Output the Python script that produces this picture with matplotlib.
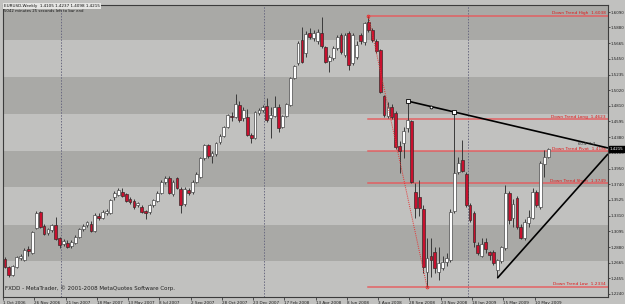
import numpy as np
import pandas as pd
import matplotlib
matplotlib.use("Agg")
import matplotlib.pyplot as plt
import matplotlib.transforms as mtrans

# weekly EURUSD bars, first bar = week of 1 Oct 2006
opens = [1.2716, 1.2606, 1.2497, 1.2610, 1.2730, 1.2702, 1.2852, 1.2800, 1.3139, 1.3358,
         1.3167, 1.3071, 1.3112, 1.3180, 1.3003, 1.2921, 1.2934, 1.2893, 1.2934, 1.3016,
         1.3126, 1.3180, 1.3194, 1.3098, 1.3303, 1.3276, 1.3344, 1.3344, 1.3563, 1.3590,
         1.3631, 1.3604, 1.3535, 1.3508, 1.3453, 1.3426, 1.3372, 1.3358, 1.3453, 1.3508,
         1.3617, 1.3768, 1.3822, 1.3604, 1.3822, 1.3672, 1.3467, 1.3658, 1.3631, 1.3768,
         1.3836, 1.4096, 1.4273, 1.4123, 1.4150, 1.4314, 1.4396, 1.4519, 1.4669, 1.4656,
         1.4820, 1.4642, 1.4656, 1.4410, 1.4369, 1.4710, 1.4751, 1.4806, 1.4642, 1.4669,
         1.4792, 1.4519, 1.4669, 1.4820, 1.5188, 1.5393, 1.5708, 1.5530, 1.5803, 1.5735,
         1.5694, 1.5803, 1.5612, 1.5421, 1.5462, 1.5598, 1.5776, 1.5503, 1.5803, 1.5393,
         1.5475, 1.5776, 1.5680, 1.5954, 1.5844, 1.5694, 1.5571, 1.4943, 1.4669, 1.4792,
         1.4710, 1.4260, 1.4300, 1.4505, 1.4600, 1.3631, 1.3563, 1.3399, 1.2538, 1.2757,
         1.2811, 1.2538, 1.2593, 1.2675, 1.2702, 1.3372, 1.3904, 1.4068, 1.3877, 1.3453,
         1.3344, 1.2907, 1.2757, 1.2948, 1.2811, 1.2811, 1.2565, 1.2688, 1.2866, 1.3617,
         1.3276, 1.3549, 1.3153, 1.3003, 1.3208, 1.3276, 1.3631, 1.3426, 1.4014, 1.4105]
highs = [1.2740, 1.2620, 1.2640, 1.2760, 1.2790, 1.2860, 1.2900, 1.3100, 1.3370, 1.3367,
         1.3190, 1.3140, 1.3200, 1.3290, 1.3016, 1.2990, 1.2975, 1.2975, 1.3050, 1.3140,
         1.3190, 1.3240, 1.3230, 1.3340, 1.3340, 1.3390, 1.3400, 1.3540, 1.3640, 1.3680,
         1.3680, 1.3620, 1.3560, 1.3530, 1.3500, 1.3450, 1.3390, 1.3470, 1.3540, 1.3640,
         1.3800, 1.3850, 1.3850, 1.3790, 1.3840, 1.3700, 1.3700, 1.3690, 1.3800, 1.3900,
         1.4110, 1.4290, 1.4290, 1.4190, 1.4320, 1.4420, 1.4530, 1.4700, 1.4720, 1.4970,
         1.4880, 1.4790, 1.4760, 1.4440, 1.4740, 1.4780, 1.4820, 1.4915, 1.4792, 1.4943,
         1.4830, 1.4690, 1.4850, 1.5200, 1.5370, 1.5690, 1.5885, 1.5830, 1.5870, 1.5840,
         1.5860, 1.6022, 1.5630, 1.5500, 1.5620, 1.5780, 1.5800, 1.5800, 1.5830, 1.5800,
         1.5700, 1.5800, 1.5960, 1.6038, 1.5870, 1.5720, 1.5590, 1.4960, 1.4860, 1.4840,
         1.4740, 1.4330, 1.4520, 1.4874, 1.4620, 1.3750, 1.3800, 1.3450, 1.3000, 1.3000,
         1.2880, 1.2880, 1.2760, 1.2800, 1.3400, 1.4719, 1.4110, 1.4341, 1.3900, 1.3480,
         1.3370, 1.2950, 1.3000, 1.3000, 1.2830, 1.2840, 1.2720, 1.2900, 1.3727, 1.3640,
         1.3540, 1.3570, 1.3200, 1.3260, 1.3390, 1.3680, 1.3660, 1.4050, 1.4200, 1.4237]
lows = [1.2590, 1.2470, 1.2480, 1.2590, 1.2700, 1.2690, 1.2760, 1.2790, 1.3120, 1.3140,
        1.3040, 1.3050, 1.3090, 1.2975, 1.2870, 1.2900, 1.2860, 1.2870, 1.2920, 1.3000,
        1.3100, 1.3160, 1.3080, 1.3080, 1.3250, 1.3260, 1.3320, 1.3330, 1.3520, 1.3570,
        1.3560, 1.3490, 1.3470, 1.3400, 1.3420, 1.3340, 1.3262, 1.3330, 1.3430, 1.3490,
        1.3600, 1.3740, 1.3600, 1.3580, 1.3670, 1.3344, 1.3440, 1.3590, 1.3610, 1.3750,
        1.3820, 1.4070, 1.4100, 1.4027, 1.4130, 1.4290, 1.4380, 1.4500, 1.4600, 1.4640,
        1.4590, 1.4600, 1.4390, 1.4300, 1.4350, 1.4680, 1.4720, 1.4590, 1.4369, 1.4650,
        1.4451, 1.4500, 1.4650, 1.4800, 1.5170, 1.5370, 1.5390, 1.5480, 1.5720, 1.5700,
        1.5660, 1.5600, 1.5390, 1.5270, 1.5440, 1.5570, 1.5520, 1.5480, 1.5298, 1.5370,
        1.5450, 1.5650, 1.5640, 1.5820, 1.5680, 1.5530, 1.4980, 1.4660, 1.4640, 1.4630,
        1.4220, 1.3891, 1.4100, 1.4450, 1.3750, 1.3270, 1.3300, 1.2530, 1.2334, 1.2470,
        1.2520, 1.2430, 1.2570, 1.2620, 1.2680, 1.3340, 1.3880, 1.3900, 1.3430, 1.3220,
        1.2880, 1.2770, 1.2740, 1.2800, 1.2700, 1.2640, 1.2456, 1.2660, 1.2840, 1.3200,
        1.3150, 1.3120, 1.2990, 1.2980, 1.3160, 1.3260, 1.3430, 1.3400, 1.3830, 1.4098]
closes = [1.2606, 1.2497, 1.2620, 1.2743, 1.2757, 1.2839, 1.2825, 1.3085, 1.3344, 1.3153,
          1.3057, 1.3126, 1.3180, 1.2989, 1.2907, 1.2962, 1.2880, 1.2948, 1.3016, 1.3126,
          1.3167, 1.3221, 1.3098, 1.3317, 1.3276, 1.3358, 1.3372, 1.3522, 1.3617, 1.3658,
          1.3576, 1.3508, 1.3494, 1.3426, 1.3481, 1.3358, 1.3344, 1.3453, 1.3522, 1.3617,
          1.3768, 1.3822, 1.3617, 1.3768, 1.3686, 1.3453, 1.3672, 1.3617, 1.3768, 1.3877,
          1.4096, 1.4273, 1.4123, 1.4164, 1.4300, 1.4396, 1.4519, 1.4683, 1.4656, 1.4833,
          1.4615, 1.4751, 1.4410, 1.4369, 1.4724, 1.4751, 1.4792, 1.4615, 1.4683, 1.4792,
          1.4505, 1.4669, 1.4833, 1.5188, 1.5352, 1.5667, 1.5407, 1.5790, 1.5749, 1.5803,
          1.5817, 1.5626, 1.5407, 1.5475, 1.5598, 1.5749, 1.5544, 1.5776, 1.5366, 1.5776,
          1.5639, 1.5694, 1.5940, 1.5844, 1.5708, 1.5557, 1.4997, 1.4683, 1.4792, 1.4656,
          1.4246, 1.4190, 1.4470, 1.4615, 1.3768, 1.3412, 1.3412, 1.2606, 1.2729, 1.2702,
          1.2593, 1.2661, 1.2675, 1.2729, 1.3358, 1.3891, 1.4027, 1.3918, 1.3453, 1.3249,
          1.2948, 1.2798, 1.2921, 1.2852, 1.2770, 1.2661, 1.2702, 1.2880, 1.3617, 1.3249,
          1.3467, 1.3153, 1.3003, 1.3221, 1.3290, 1.3631, 1.3453, 1.4027, 1.4109, 1.4215]

date_labels = ["1 Oct 2006", "26 Nov 2006", "21 Jan 2007", "18 Mar 2007", "13 May 2007",
               "8 Jul 2007", "2 Sep 2007", "28 Oct 2007", "23 Dec 2007", "17 Feb 2008",
               "13 Apr 2008", "8 Jun 2008", "3 Aug 2008", "28 Sep 2008", "23 Nov 2008",
               "18 Jan 2009", "15 Mar 2009", "10 May 2009"]
price_ticks = [1.6090, 1.5880, 1.5665, 1.5450, 1.5235, 1.5020, 1.4810, 1.4595, 1.4380,
               1.4165, 1.3950, 1.3740, 1.3525, 1.3310, 1.3095, 1.2880, 1.2665, 1.2455, 1.2240]

# shaded background bands (price)
band_edges = [1.5708, 1.5202, 1.4703, 1.4191, 1.3699, 1.3187, 1.2688]

# fibo object: high bar / low bar
fib_bars = [93, 108]
fib_levels = [1.6038, 1.4623, 1.4186, 1.3749, 1.2334]
fib_names = ["Down Trend High", "Down Trend Long", "Down Trend Pivot",
             "Down Trend Short", "Down Trend Low"]

# trend lines (bar index, price)
upper_bars = [103, 115]
upper_prices = [1.4874, 1.4724]
upper_label = "60.4  1.2"
lower_bars = [126, 139]
lower_prices = [1.2456, 1.3235]

last_price = 1.4215

dates = pd.date_range("2006-10-01", periods=len(opens), freq="7D")
o = np.array(opens); h = np.array(highs); l = np.array(lows); c = np.array(closes)
idx = np.arange(len(o))

DARK = "#a9a9a6"
LIGHT = "#c1c1bf"
RED = "#c8102e"

fig = plt.figure(figsize=(6.25, 3.04), dpi=100)
fig.patch.set_facecolor(LIGHT)
ax = fig.add_axes([3/625, 1 - 297/304, 605/625, 292/304])
ax.set_facecolor(LIGHT)

XMIN, XMAX = -0.26, 154.3
YMIN, YMAX = 1.2197, 1.6186
ax.set_xlim(XMIN, XMAX)
ax.set_ylim(YMIN, YMAX)

# bands: dark / light alternating from top
edges = [YMAX] + band_edges + [YMIN]
for k in range(len(edges) - 1):
    if k % 2 == 0:
        ax.axhspan(edges[k + 1], edges[k], color=DARK, lw=0, zorder=0)

# period separators (first bar of each year)
yrs = dates.year
for k in range(1, len(dates)):
    if yrs[k] != yrs[k - 1]:
        ax.axvline(k + 0.4, color="#6a6a80", lw=0.7, ls=(0, (1.5, 1.5)), zorder=1)

# candles
up = c >= o
ax.vlines(idx, l, h, color="#3a3a3a", lw=0.7, zorder=3)
body_lo = np.minimum(o, c)
body_h = np.maximum(np.abs(c - o), 0.0005)
ax.bar(idx[up], body_h[up], 0.72, bottom=body_lo[up], color="white",
       edgecolor="#4a4a4a", lw=0.5, zorder=4)
ax.bar(idx[~up], body_h[~up], 0.72, bottom=body_lo[~up], color=RED,
       edgecolor="#3a2a2a", lw=0.5, zorder=4)

# fibo levels
for lev, name in zip(fib_levels, fib_names):
    ax.plot([fib_bars[0], XMAX], [lev, lev], color="#e8585a", lw=1.1, zorder=2, alpha=0.9)
    ax.text(XMAX - 0.5, lev + 0.0009, f"{name}  {lev:.4f}", color="#e01818",
            fontsize=3.1, ha="right", va="bottom", zorder=6)
ax.plot(fib_bars, [fib_levels[0], fib_levels[-1]], color="#e83030", lw=0.7,
        ls=(0, (1, 1.2)), zorder=5)
ax.plot(fib_bars, [fib_levels[0], fib_levels[-1]], ls="none", marker="o", ms=2,
        mfc="none", mec="#e83030", mew=0.6, zorder=5)

# upper trend line (ray to the right)
s_up = (upper_prices[1] - upper_prices[0]) / (upper_bars[1] - upper_bars[0])
ax.plot([upper_bars[0], XMAX], [upper_prices[0], upper_prices[0] + s_up * (XMAX - upper_bars[0])],
        color="black", lw=1.2, zorder=6, solid_capstyle="butt")
ax.plot(upper_bars, upper_prices, ls="none", marker="s", ms=2.2, mfc="white",
        mec="black", mew=0.6, zorder=7)
ax.plot([np.mean(upper_bars)], [np.mean(upper_prices)], ls="none", marker="o", ms=2,
        mfc="white", mec="black", mew=0.6, zorder=7)
lx = 146.5
ax.text(lx, upper_prices[0] + s_up * (lx - upper_bars[0]) - 0.0012, upper_label,
        fontsize=2.8, color="#303030", ha="left", va="top", zorder=7)

# lower trend line
s_lo = (lower_prices[1] - lower_prices[0]) / (lower_bars[1] - lower_bars[0])
ax.plot([lower_bars[0], XMAX], [lower_prices[0], lower_prices[0] + s_lo * (XMAX - lower_bars[0])],
        color="black", lw=1.2, zorder=6, solid_capstyle="butt")

# axes styling
for sp in ax.spines.values():
    sp.set_color("#3c3c3c")
    sp.set_linewidth(0.8)
ax.yaxis.tick_right()
ax.set_yticks(price_ticks)
ax.set_yticklabels([f"{p:.4f}" for p in price_ticks])
ax.tick_params(axis="y", length=1.2, width=0.5, pad=0.6, labelsize=2.9,
               colors="#202020")
xt = np.arange(0, len(o), 8)[:len(date_labels)] - 0.5
ax.set_xticks(xt)
ax.set_xticklabels(date_labels)
ax.tick_params(axis="x", length=2, width=0.5, pad=0.8, labelsize=3.0,
               colors="#202020")
for t in ax.get_xticklabels():
    t.set_ha("left")

# current price box
tr = mtrans.blended_transform_factory(ax.transAxes, ax.transData)
ax.text(1.003, last_price, f"{last_price:.4f}", transform=tr, fontsize=2.9,
        color="white", va="center", ha="left", zorder=10, clip_on=False,
        bbox=dict(boxstyle="square,pad=0.25", fc="black", ec="black"))

# header / footer texts
fig.text(4/625, 1 - 6/304, "EURUSD,Weekly  1.4105 1.4237 1.4098 1.4215", fontsize=3.0,
         color="#101010", va="center", ha="left",
         bbox=dict(boxstyle="square,pad=0.15", fc="#e6e6e4", ec="none"))
fig.text(4/625, 1 - 11/304, "5042 minutes 25 seconds left to bar end", fontsize=2.8,
         color="#101010", va="center", ha="left")
ax.text(0.004, 0.02, "FXDD - MetaTrader, \u00a9 2001-2008 MetaQuotes Software Corp.",
        transform=ax.transAxes, fontsize=4.0, color="#202020", va="bottom", ha="left")

fig.savefig("out.png", dpi=100, facecolor=fig.get_facecolor())
